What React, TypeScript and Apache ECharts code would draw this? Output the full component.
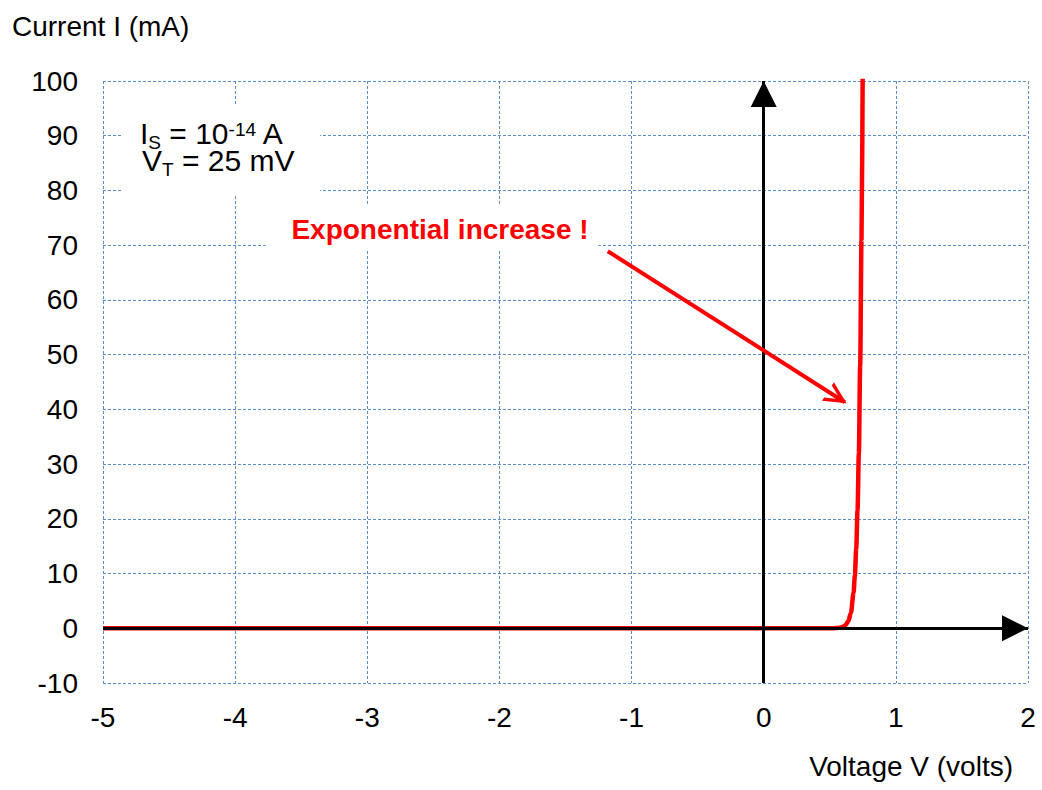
import React, { useEffect, useRef } from "react";
import * as echarts from "echarts";

// Voltage (V) vs current (mA)
const voltage = [-5, 0, 0.5, 0.55, 0.58, 0.6, 0.62, 0.64, 0.66, 0.68, 0.69, 0.7, 0.71, 0.72, 0.73, 0.74, 0.75];
const current = [0, 0, 0.003, 0.036, 0.12, 0.26, 0.6, 1.3, 2.8, 6.5, 9.7, 14.5, 21.6, 32, 48, 71, 107];

const xTicks = [-5, -4, -3, -2, -1, 0, 1, 2];
const yTicks = [-10, 0, 10, 20, 30, 40, 50, 60, 70, 80, 90, 100];

// annotation arrow (data coordinates)
const annotStart = [-1.18, 68.9];
const annotEnd = [0.614, 41.3];

const FONT = "'Liberation Sans', Arial, sans-serif";
const GRID_COLOR = "#5B8FCB";

const rich = {
  m: { fontSize: 30, fontFamily: FONT, color: "#000", lineHeight: 38, verticalAlign: "middle" },
  sub: { fontSize: 19, fontFamily: FONT, color: "#000", lineHeight: 19, verticalAlign: "bottom" },
  sup: { fontSize: 19, fontFamily: FONT, color: "#000", lineHeight: 19, verticalAlign: "top", padding: [6, 0, 0, 0] },
};

const richText = (text: string, x: number, y: number) => ({
  type: "text",
  z: 12,
  x,
  y,
  style: { text, rich, fontFamily: FONT, fill: "#000", verticalAlign: "top" },
});

export default function App() {
  const ref = useRef<HTMLDivElement>(null);
  useEffect(() => {
    if (!ref.current) return;
    const chart = echarts.init(ref.current, undefined, { renderer: "svg" });
    const curve = voltage.map((v, i) => [v, current[i]]);
    const splitLine = { show: true, lineStyle: { color: GRID_COLOR, type: [3, 2], width: 1 } };
    chart.setOption({
      animation: false,
      backgroundColor: "#fff",
      grid: { left: 103, right: 14, top: 81, bottom: 107, containLabel: false },
      xAxis: {
        type: "value",
        min: xTicks[0],
        max: xTicks[xTicks.length - 1],
        interval: 1,
        axisLine: { show: false },
        axisTick: { show: false },
        splitLine,
        axisLabel: { fontSize: 28, color: "#000", fontFamily: FONT, margin: 20 },
      },
      yAxis: {
        type: "value",
        min: yTicks[0],
        max: yTicks[yTicks.length - 1],
        interval: 10,
        axisLine: { show: false },
        axisTick: { show: false },
        splitLine,
        axisLabel: { fontSize: 28, color: "#000", fontFamily: FONT, margin: 25 },
      },
      series: [
        {
          type: "line",
          z: 2,
          data: [],
          silent: true,
          markLine: {
            silent: true,
            symbol: ["none", "triangle"],
            symbolSize: 26,
            symbolOffset: [[0, 0], [0, 13]],
            label: { show: false },
            lineStyle: { color: "#000", width: 3, type: "solid" },
            emphasis: { disabled: true },
            data: [[{ coord: [xTicks[0], 0] }, { coord: [xTicks[xTicks.length - 1], 0] }]],
          },
        },
        {
          type: "line",
          z: 3,
          data: curve,
          showSymbol: false,
          smooth: 0.3,
          smoothMonotone: "x",
          lineStyle: { color: "#FF0000", width: 4.5 },
          silent: true,
        },
        {
          type: "line",
          z: 4,
          data: [],
          silent: true,
          markLine: {
            silent: true,
            symbol: ["none", "triangle"],
            symbolSize: 26,
            symbolOffset: [[0, 0], [0, 13]],
            label: { show: false },
            lineStyle: { color: "#000", width: 3, type: "solid" },
            emphasis: { disabled: true },
            data: [[{ coord: [0, yTicks[0]] }, { coord: [0, yTicks[yTicks.length - 1]] }]],
          },
        },
        {
          type: "line",
          z: 5,
          data: [],
          silent: true,
          markLine: {
            silent: true,
            symbol: ["none", "path://M10,0 L20,16 L16.5,16 L10,5.5 L3.5,16 L0,16 Z"],
            symbolSize: 22,
            symbolOffset: [[0, 0], [0, 9]],
            label: { show: false },
            itemStyle: { color: "#FF0000" },
            lineStyle: { color: "#FF0000", width: 4, type: "solid" },
            emphasis: { disabled: true },
            data: [[{ coord: annotStart }, { coord: annotEnd }]],
          },
        },
      ],
      graphic: [
        {
          type: "text",
          left: 12,
          top: 12,
          style: { text: "Current I (mA)", fontSize: 28, fontFamily: FONT, fill: "#000" },
        },
        {
          type: "text",
          right: 29,
          top: 752,
          style: { text: "Voltage V (volts)", fontSize: 28, fontFamily: FONT, fill: "#000" },
        },
        {
          type: "rect",
          z: 10,
          shape: { x: 123, y: 104, width: 197, height: 91 },
          style: { fill: "#fff" },
        },
        richText("{m|I}{sub|S}{m| = 10}{sup|-14}{m| A}", 140, 114),
        richText("{m|V}{sub|T}{m| = 25 mV}", 142, 141),
        {
          type: "rect",
          z: 10,
          shape: { x: 268, y: 205, width: 329, height: 46 },
          style: { fill: "#fff" },
        },
        {
          type: "text",
          z: 12,
          x: 440,
          y: 229,
          style: {
            text: "Exponential increase !",
            fontSize: 28,
            fontWeight: "bold",
            fontFamily: FONT,
            fill: "#FF0000",
            align: "center",
            verticalAlign: "middle",
          },
        },
      ],
    });
    return () => chart.dispose();
  }, []);
  return <div ref={ref} style={{ width: 1042, height: 790, position: "absolute", left: 0, top: 0 }} />;
}
